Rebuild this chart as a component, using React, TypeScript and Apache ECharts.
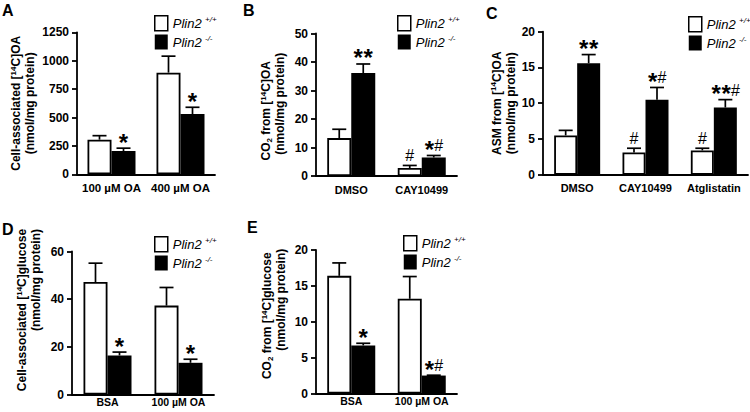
import React, { useEffect, useRef } from 'react';
import * as echarts from 'echarts';

// ---------- Data ----------
const catsA = ['100 µM OA', '400 µM OA'];
const wtA = [305, 895];
const wtSemA = [35, 145];
const koA = [205, 530];
const koSemA = [25, 60];
const sigWtA = ['', ''];
const sigKoA = ['*', '*'];

const catsB = ['DMSO', 'CAY10499'];
const wtB = [13.3, 2.8];
const wtSemB = [3.1, 0.9];
const koB = [36.1, 6.5];
const koSemB = [3.2, 0.7];
const sigWtB = ['', '#'];
const sigKoB = ['**', '*#'];

const catsC = ['DMSO', 'CAY10499', 'Atglistatin'];
const wtC = [5.5, 3.1, 3.4];
const wtSemC = [0.7, 0.6, 0.3];
const koC = [15.6, 10.5, 9.4];
const koSemC = [1.2, 1.7, 1.1];
const sigWtC = ['', '#', '#'];
const sigKoC = ['**', '*#', '**#'];

const catsD = ['BSA', '100 µM OA'];
const wtD = [47.2, 37.3];
const wtSemD = [7.9, 7.6];
const koD = [16.4, 13.3];
const koSemD = [1.4, 1.5];
const sigWtD = ['', ''];
const sigKoD = ['*', '*'];

const catsE = ['BSA', '100 µM OA'];
const wtE = [16.4, 13.2];
const wtSemE = [1.8, 3.1];
const koE = [6.7, 2.5];
const koSemE = [0.3, 0.05];
const sigWtE = ['', ''];
const sigKoE = ['*', '*#'];

const yTicksA = { max: 1250, step: 250 };
const yTicksB = { max: 50, step: 10 };
const yTicksC = { max: 20, step: 5 };
const yTicksD = { max: 60, step: 20 };
const yTicksE = { max: 20, step: 5 };

const legendNames = ['Plin2 +/+', 'Plin2 -/-'];

// ---------- Styling ----------
const FONT = '"Liberation Sans", Arial, Helvetica, sans-serif';
const L2 = '(nmol/mg protein)';

type Panel = {
  letter: string;
  cats: string[];
  wt: number[];
  wtSem: number[];
  ko: number[];
  koSem: number[];
  sigWt: string[];
  sigKo: string[];
  ticks: { max: number; step: number };
  name: string;
  grid: { left: number; top: number; width: number; height: number };
  barW: number;
  nameGap: number;
  namePad: number[];
  l2Pad: number;
  legendPos: { left: number; top: number };
  letterPos: [number, number];
  catFont: number;
  catMargin: number;
};

const panels: Panel[] = [
  {
    letter: 'A', cats: catsA, wt: wtA, wtSem: wtSemA, ko: koA, koSem: koSemA, sigWt: sigWtA, sigKo: sigKoA,
    ticks: yTicksA, name: `Cell-associated [{sup|14}C]OA\n{l2|${L2}}`,
    grid: { left: 77, top: 32.3, width: 138, height: 142 }, barW: 24, nameGap: 40, namePad: [0, 0, 0, 0], l2Pad: 0,
    legendPos: { left: 154, top: 15 }, letterPos: [2, 2], catFont: 11.5, catMargin: 8,
  },
  {
    letter: 'B', cats: catsB, wt: wtB, wtSem: wtSemB, ko: koB, koSem: koSemB, sigWt: sigWtB, sigKo: sigKoB,
    ticks: yTicksB, name: `CO{sub|2} from [{sup|14}C]OA\n{l2|${L2}}`,
    grid: { left: 316, top: 33.5, width: 141, height: 142.5 }, barW: 24, nameGap: 29, namePad: [0, 12, 0, 0], l2Pad: 14,
    legendPos: { left: 397, top: 15 }, letterPos: [243, 2], catFont: 11, catMargin: 8,
  },
  {
    letter: 'C', cats: catsC, wt: wtC, wtSem: wtSemC, ko: koC, koSem: koSemC, sigWt: sigWtC, sigKo: sigKoC,
    ticks: yTicksC, name: `ASM from [{sup|14}C]OA\n{l2|${L2}}`,
    grid: { left: 543, top: 31.7, width: 205, height: 143 }, barW: 23, nameGap: 19, namePad: [0, 0, 0, 0], l2Pad: 0,
    legendPos: { left: 688, top: 16 }, letterPos: [486, 5], catFont: 11, catMargin: 8,
  },
  {
    letter: 'D', cats: catsD, wt: wtD, wtSem: wtSemD, ko: koD, koSem: koSemD, sigWt: sigWtD, sigKo: sigKoD,
    ticks: yTicksD, name: `Cell-associated [{sup|14}C]glucose\n{l2|${L2}}`,
    grid: { left: 72, top: 251.5, width: 142, height: 143 }, barW: 24, nameGap: 29, namePad: [0, 0, 0, 26], l2Pad: 60,
    legendPos: { left: 154, top: 236 }, letterPos: [2, 221], catFont: 10.5, catMargin: 2,
  },
  {
    letter: 'E', cats: catsE, wt: wtE, wtSem: wtSemE, ko: koE, koSem: koSemE, sigWt: sigWtE, sigKo: sigKoE,
    ticks: yTicksE, name: `CO{sub|2} from [{sup|14}C]glucose\n{l2|${L2}}`,
    grid: { left: 316, top: 250, width: 141, height: 143.5 }, barW: 24, nameGap: 28, namePad: [0, 0, 0, 12], l2Pad: 32,
    legendPos: { left: 403, top: 235 }, letterPos: [247, 219], catFont: 10.5, catMargin: 2,
  },
];

function buildOption() {
  const grid: any[] = [];
  const xAxis: any[] = [];
  const yAxis: any[] = [];
  const series: any[] = [];
  const legend: any[] = [];
  const graphic: any[] = [];

  panels.forEach((p, i) => {
    grid.push({ ...p.grid, containLabel: false, outerBoundsMode: 'none' });
    xAxis.push({
      type: 'category', gridIndex: i, data: p.cats,
      axisTick: { show: false },
      axisLine: { lineStyle: { color: '#000', width: 1.8 } },
      axisLabel: { color: '#000', fontFamily: FONT, fontWeight: 'bold', fontSize: p.catFont, margin: p.catMargin, interval: 0 },
    });
    yAxis.push({
      type: 'value', gridIndex: i, min: 0, max: p.ticks.max, interval: p.ticks.step,
      splitLine: { show: false },
      axisLine: { show: true, lineStyle: { color: '#000', width: 1.8 } },
      axisTick: { show: true, length: 5, lineStyle: { color: '#000', width: 1.8 } },
      axisLabel: {
        color: '#000', fontFamily: FONT, fontWeight: 'bold', fontSize: 12, margin: 8,
        formatter: (v: number) => String(v),
      },
      name: p.name, nameLocation: 'middle', nameGap: p.nameGap,
      nameTextStyle: {
        color: '#000', fontFamily: FONT, fontWeight: 'bold', fontSize: 12, lineHeight: 14,
        padding: p.namePad,
        rich: {
          sup: { fontFamily: FONT, fontWeight: 'bold', fontSize: 8, lineHeight: 8, verticalAlign: 'top', color: '#000' },
          sub: { fontFamily: FONT, fontWeight: 'bold', fontSize: 8, lineHeight: 8, verticalAlign: 'bottom', color: '#000' },
          l2: { fontFamily: FONT, fontWeight: 'bold', fontSize: 12, lineHeight: 14, color: '#000', padding: [0, 0, 0, p.l2Pad] },
        },
      },
    });
    series.push({
      type: 'bar', name: legendNames[0], xAxisIndex: i, yAxisIndex: i, data: p.wt,
      barWidth: p.barW, barGap: '0%',
      itemStyle: { color: '#fff', borderColor: '#000', borderWidth: 1.8 },
      z: 2,
    });
    series.push({
      type: 'bar', name: legendNames[1], xAxisIndex: i, yAxisIndex: i, data: p.ko,
      barWidth: p.barW, barGap: '0%',
      itemStyle: { color: '#000' },
      z: 2,
    });

    const items: { cat: number; mean: number; sem: number; g: number; sig: string }[] = [];
    p.cats.forEach((_, c) => {
      items.push({ cat: c, mean: p.wt[c], sem: p.wtSem[c], g: 0, sig: p.sigWt[c] });
      items.push({ cat: c, mean: p.ko[c], sem: p.koSem[c], g: 1, sig: p.sigKo[c] });
    });
    const bw = p.barW;
    series.push({
      type: 'custom', xAxisIndex: i, yAxisIndex: i, z: 3, silent: true,
      data: items.map((it) => [it.cat, it.mean + it.sem]),
      renderItem: (params: any, api: any) => {
        const it = items[params.dataIndex];
        const base = api.coord([it.cat, it.mean]);
        const top = api.coord([it.cat, it.mean + it.sem]);
        const cx = base[0] + (it.g === 0 ? -bw / 2 : bw / 2);
        const capW = 14;
        const lineStyle = { stroke: '#000', lineWidth: 1.7 };
        const children: any[] = [
          { type: 'line', shape: { x1: cx, y1: base[1], x2: cx, y2: top[1] }, style: lineStyle },
          { type: 'line', shape: { x1: cx - capW / 2, y1: top[1], x2: cx + capW / 2, y2: top[1] }, style: lineStyle },
        ];
        if (it.sig) {
          const chars = it.sig.split('');
          const adv = (ch: string) => (ch === '*' ? 10 : 8.5);
          const total = chars.reduce((s, ch) => s + adv(ch), 0);
          let x = cx - total / 2;
          const cy = top[1] - 11;
          chars.forEach((ch) => {
            const a = adv(ch);
            children.push({
              type: 'text',
              x: x + a / 2,
              y: ch === '*' ? cy + 5 : cy + 1.5,
              style: {
                text: ch,
                fill: '#000',
                fontFamily: FONT,
                fontWeight: ch === '*' ? 'bold' : 'normal',
                fontSize: ch === '*' ? 24 : 16,
                align: 'center',
                verticalAlign: 'middle',
              },
            });
            x += a;
          });
        }
        return { type: 'group', children };
      },
    });

    legend.push({
      orient: 'vertical', left: p.legendPos.left, top: p.legendPos.top, padding: 0,
      itemWidth: 13, itemHeight: 15, itemGap: 3, icon: 'rect', selectedMode: false,
      data: [
        { name: legendNames[0], itemStyle: { color: '#fff', borderColor: '#000', borderWidth: 1.5 } },
        { name: legendNames[1], itemStyle: { color: '#000', borderWidth: 0 } },
      ],
      formatter: (n: string) => (n === legendNames[0] ? '{i|Plin2} {s|+/+}' : '{i|Plin2} {s|-/-}'),
      textStyle: {
        color: '#000',
        rich: {
          i: { fontFamily: FONT, fontStyle: 'italic', fontSize: 13, lineHeight: 15, color: '#000' },
          s: { fontFamily: FONT, fontStyle: 'italic', fontSize: 8, lineHeight: 9, verticalAlign: 'top', color: '#000' },
        },
      },
    });

    graphic.push({
      type: 'text', x: p.letterPos[0], y: p.letterPos[1],
      style: { text: p.letter, fill: '#000', fontFamily: FONT, fontWeight: 'bold', fontSize: 16, verticalAlign: 'top' },
    });
  });

  return {
    animation: false,
    backgroundColor: '#fff',
    grid, xAxis, yAxis, series, legend, graphic,
  };
}

export default function App() {
  const ref = useRef<HTMLDivElement>(null);
  useEffect(() => {
    if (!ref.current) return;
    const chart = echarts.init(ref.current, undefined, { renderer: 'svg' });
    chart.setOption(buildOption() as any);
    return () => chart.dispose();
  }, []);
  return (
    <div
      ref={ref}
      style={{ position: 'fixed', left: 0, top: 0, width: 750, height: 412, background: '#fff' }}
    />
  );
}
